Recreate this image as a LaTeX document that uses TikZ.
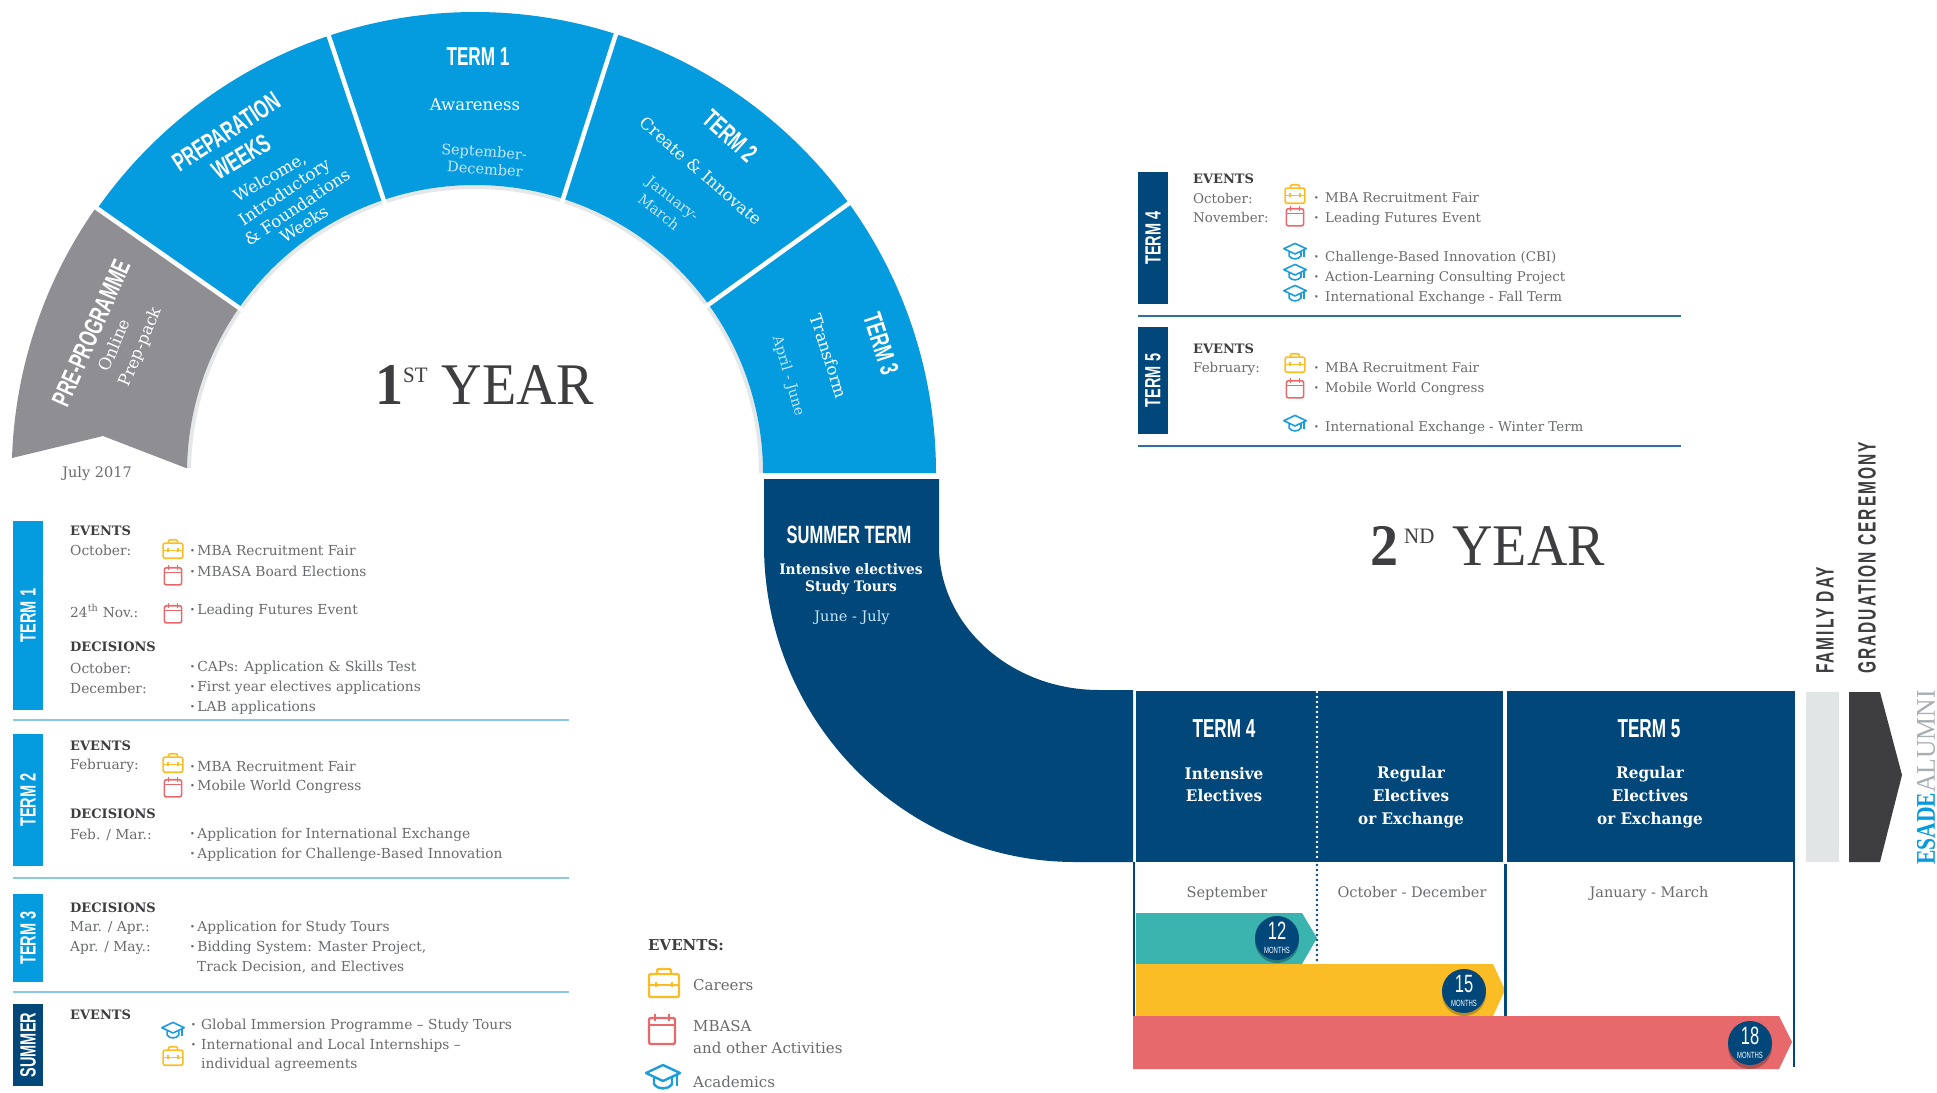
\documentclass[tikz,border=0pt]{standalone}
\usepackage{fontspec}
\setmainfont{DejaVu Serif}
\newfontfamily\termfont[FakeStretch=0.66]{Liberation Sans}
\newfontfamily\sidefont[FakeStretch=0.62,LetterSpace=8]{Liberation Sans}
\newfontfamily\yearfont[FakeStretch=0.95]{Liberation Serif}
\newfontfamily\esadefont[FakeStretch=0.8]{Liberation Serif}
\newfontfamily\panelfont[FakeStretch=0.95]{DejaVu Serif}
\newcommand{\fs}[1]{\fontsize{#1}{#1}\selectfont}
\newcommand{\dotitem}[1][7.2pt]{\makebox[#1][l]{\bfseries\textperiodcentered}}
\definecolor{navy}{HTML}{02477A}
\definecolor{termblue}{HTML}{059BDF}
\definecolor{archgray}{HTML}{8F8F93}
\definecolor{shadegray}{HTML}{E6E7E8}
\definecolor{bodygray}{HTML}{6A6B6E}
\definecolor{headgray}{HTML}{3E3D40}
\definecolor{paleblue}{HTML}{C4E6F8}
\definecolor{rulelight}{HTML}{8CC8E6}
\definecolor{ruledark}{HTML}{2F6FA5}
\definecolor{iconyellow}{HTML}{FBBD26}
\definecolor{iconred}{HTML}{E8696B}
\definecolor{iconblue}{HTML}{1B9CDD}
\definecolor{barteal}{HTML}{3BB3AF}
\definecolor{familygray}{HTML}{E1E5E5}
\definecolor{alumnigray}{HTML}{A9AEB3}
\tikzset{
  termhead/.style={font=\termfont\bfseries\fs{26},text=white,inner sep=0pt},
  archtext/.style={font=\fs{16.5},text=white,inner sep=0pt},
  archdate/.style={font=\fs{14.5},text=paleblue,inner sep=0pt},
  boxlabel/.style={font=\termfont\bfseries\fs{22},text=white,rotate=90,inner sep=0pt},
  listtext/.style={font=\fs{13.8},text=bodygray,anchor=west,inner sep=0pt},
  righttext/.style={font=\fs{13.4},text=bodygray,anchor=west,inner sep=0pt},
  listhead/.style={font=\bfseries\fs{13},text=headgray,anchor=west,inner sep=0pt},
  panelhead/.style={font=\panelfont\bfseries\fs{16},text=white,inner sep=0pt},
  paneldate/.style={font=\fs{14.5},text=bodygray,anchor=base,inner sep=0pt},
  bigyear/.style={font=\yearfont\fs{59},text=headgray,anchor=base west,inner sep=0pt},
  sidetext/.style={font=\sidefont\bfseries\fs{25},text=headgray,rotate=90,anchor=west,inner sep=0pt},
  monthdot/.style={circle,fill=navy,minimum size=44pt,inner sep=0pt,text=white,align=center},
  smallicon/.style={scale=0.66,yscale=-1,line width=1.6pt},
  bigicon/.style={yscale=-1,line width=2.4pt},
  briefcase/.pic={
    \draw[iconyellow,rounded corners=2] (-15,-9) rectangle (15,14);
    \draw[iconyellow,rounded corners=2] (-7,-9) -- (-7,-14) -- (7,-14) -- (7,-9);
    \draw[iconyellow] (-15,2) -- (15,2) (-8,-1) -- (-8,4) (8,-1) -- (8,4);
  },
  calendar/.pic={
    \draw[iconred,rounded corners=2] (-13,-11) rectangle (13,15);
    \draw[iconred] (-13,-4) -- (13,-4) (-7,-15) -- (-7,-8) (7,-15) -- (7,-8);
  },
  gradcap/.pic={
    \draw[iconblue,line join=round] (-17,-5) -- (0,-13) -- (17,-5) -- (0,3) -- cycle;
    \draw[iconblue] (-9,0) -- (-9,6) .. controls (-5,12) and (5,12) .. (9,6) -- (9,0);
    \draw[iconblue] (14,-4) -- (14,8);
  }
}
\begin{document}
\begin{tikzpicture}[x=1pt,y=1pt,yscale=-1]
\path[use as bounding box,fill=white] (0,0) rectangle (1937,1092);

\begin{scope}[shift={(475,473)}]
\fill[shadegray] (181:288) arc[start angle=181,end angle=360,radius=288] -- (360:284) arc[start angle=360,end angle=181,radius=284] -- cycle;
\fill[archgray] (12,458) ++(-475,-473) arc[start angle=181.9,end angle=215,radius=461] -- (215:288) arc[start angle=215,end angle=181,radius=288] -- (-289,-5) -- (-372,-37) -- cycle;
\foreach \a/\b in {215/251.5,251.5/287.8,287.8/324.2,324.2/360}
{
\fill[termblue] (\a:461) arc[start angle=\a,end angle=\b,radius=461] -- (\b:288) arc[start angle=\b,end angle=\a,radius=288] -- cycle;
}
\foreach \a in {215,251.5,287.8,324.2}
{
\draw[white,line width=4.5pt] (\a:283) -- (\a:466);
}
\end{scope}

\fill[navy] (764,479) -- (939,479) -- (939,546) arc[start angle=180,end angle=90,x radius=160,y radius=144] -- (1133,690) -- (1133,862) -- (1075,862) arc[start angle=90,end angle=180,x radius=311,y radius=317] -- cycle;
\fill[navy] (1136,691) rectangle (1503,862);
\fill[navy] (1507,691) rectangle (1795,862);

% bars below the panels
\fill[barteal] (1136,913) -- (1302,913) -- (1317,938) -- (1302,964) -- (1136,964) -- cycle;
\fill[iconyellow] (1136,964) -- (1493,964) -- (1505,990) -- (1493,1016) -- (1136,1016) -- cycle;
\draw[navy,line width=2pt] (1134,862) -- (1134,1016);
\draw[navy,line width=3pt] (1505,864) -- (1505,1016);
\draw[navy,line width=2.5pt] (1794,862) -- (1794,1067);
\fill[iconred] (1133,1016) -- (1779,1016) -- (1792,1042) -- (1779,1069) -- (1133,1069) -- cycle;
\draw[white,line width=2.6pt,line cap=round,dash pattern=on 0pt off 5pt] (1317,692) -- (1317,861);
\draw[navy,line width=2.6pt,line cap=round,dash pattern=on 0pt off 5pt] (1317,865) -- (1317,960);

\foreach \x/\y/\col in {1277/939/barteal!70!black,1464/992/iconyellow!75!black,1750/1045/iconred!75!black}
{
\fill[\col] (\x,\y+2) circle (22);
}
\foreach \nm/\x/\y/\n in {mtwelve/1277/938/12,mfifteen/1464/991/15,meighteen/1750/1043/18}
{
\node[monthdot] (\nm) at (\x,\y) {\termfont\fs{25}\n\\[2pt]\termfont\fs{9}MONTHS};
}

\fill[familygray] (1806,692) rectangle (1839,862);
\fill[headgray] (1849,692) -- (1880,692) -- (1902,775) -- (1880,862) -- (1849,862) -- cycle;

\node[sidetext] (family) at (1825,674) {FAMILY DAY};
\node[sidetext] (graduation) at (1867,674) {GRADUATION CEREMONY};
\node[rotate=90,anchor=west,inner sep=0pt,text=alumnigray] (alumni) at (1926,865) {\textcolor{termblue}{\esadefont\bfseries\fs{27}ESADE}{\yearfont\fs{27}ALUMNI}};

% arch labels
\foreach \nm/\x/\y/\r/\txt in {headone/478/57/0/{TERM 1},headtwo/730/136/-42/{TERM 2},headthree/881/344/-72/{TERM 3},headprep/226/132/33/{PREPARATION},headweeks/241/157/31/{WEEKS},headpre/91/333/66/{PRE-PROGRAMME}}
{
\node[termhead,rotate=\r] (\nm) at (\x,\y) {\txt};
}
\foreach \nm/\x/\y/\r/\txt in {aware/475/105/0/{Awareness},create/701/171/-41/{Create \& Innovate},transf/829/356/-72/{Transform},welcome/270/178/30/{Welcome,},intro/285/193/34/{Introductory},found/297/207/34/{\& Foundations},weeks/304/224/33/{Weeks},online/114/345/67/{Online},preppack/141/347/67/{Prep-pack}}
{
\node[archtext,rotate=\r] (\nm) at (\x,\y) {\txt};
}
\foreach \nm/\x/\y/\r/\txt in {sept/484/153/-4/{September-},decem/485/169/-4/{December},janu/672/200/-38/{January-},marchd/659/212/-38/{March},aprj/788/376/-74/{April - June}}
{
\node[archdate,rotate=\r] (\nm) at (\x,\y) {\txt};
}
\node[font=\fs{14.5},text=bodygray,inner sep=0pt] (july) at (97,474) {July 2017};

\node[bigyear] (yearone) at (375,404) {{\bfseries 1}\raisebox{22pt}{\fs{22}ST}\hspace{14pt}YEAR};
\node[bigyear] (yeartwo) at (1370,565) {{\bfseries 2}\hspace{6pt}\raisebox{22pt}{\fs{22}ND}\hspace{18pt}YEAR};

% summer and second year panels
\node[termhead,font=\termfont\bfseries\fs{25}] (summer) at (849,535) {SUMMER TERM};
\node[panelhead,font=\panelfont\bfseries\fs{14.5}] (inten) at (851,569) {Intensive electives};
\node[panelhead,font=\panelfont\bfseries\fs{14.5}] (study) at (851,588) {Study Tours};
\node[archdate] (junej) at (852,618) {June - July};
\node[termhead] (termfour) at (1224,729) {TERM 4};
\node[termhead] (termfive) at (1649,729) {TERM 5};
\foreach \nm/\x/\y/\txt in {pa/1224/774/{Intensive},pb/1224/796/{Electives},pc/1411/774/{Regular},pd/1411/796/{Electives},pe/1411/820/{or Exchange},pf/1650/774/{Regular},pg/1650/796/{Electives},ph/1650/820/{or Exchange}}
{
\node[panelhead] (\nm) at (\x,\y) {\txt};
}
\foreach \nm/\x/\txt in {da/1227/{September},db/1412/{October - December},dc/1649/{January - March}}
{
\node[paneldate] (\nm) at (\x,897) {\txt};
}

% left lists
\foreach \nm/\y/\h/\col/\txt in {boxa/521/189/termblue/{TERM 1},boxb/734/132/termblue/{TERM 2},boxc/894/88/termblue/{TERM 3},boxd/1004/82/navy/{SUMMER}}
{
\fill[\col] (13,\y) rectangle (43,\y+\h);
\node[boxlabel] (\nm) at (28,\y+\h*0.5) {\txt};
}
\foreach \y in {720,878,992}
{
\draw[rulelight,line width=1.5pt] (13,\y) -- (569,\y);
}
\foreach \nm/\y/\txt in {ha/531/EVENTS,hb/647/DECISIONS,hc/746/EVENTS,hd/814/DECISIONS,he/908/DECISIONS,hf/1015/EVENTS}
{
\node[listhead] (\nm) at (70,\y) {\txt};
}
\foreach \nm/\y/\txt in {la/550/{October:},lb/611/{24\textsuperscript{th} Nov.:},lc/668/{October:},ld/688/{December:},le/766/{February:},lf/835/{Feb. / Mar.:},lg/928/{Mar. / Apr.:},lh/948/{Apr. / May.:}}
{
\node[listtext] (\nm) at (70,\y) {\txt};
}
\foreach \nm/\y/\txt in {ia/551/{MBA Recruitment Fair},ib/571/{MBASA Board Elections},ic/611/{Leading Futures Event},id/668/{CAPs: Application \& Skills Test},ie/688/{First year electives applications},if/708/{LAB applications},ig/767/{MBA Recruitment Fair},ih/787/{Mobile World Congress},ii/835/{Application for International Exchange},ij/855/{Application for Challenge-Based Innovation},ik/928/{Application for Study Tours},il/948/{Bidding System: Master Project,}}
{
\node[listtext] (\nm) at (190,\y) {\dotitem\txt};
}
\node[listtext] (im) at (197,967) {Track Decision, and Electives};
\node[listtext] (in) at (191,1026) {\dotitem[10pt]Global Immersion Programme – Study Tours};
\node[listtext] (io) at (191,1046) {\dotitem[10pt]International and Local Internships –};
\node[listtext] (ip) at (201,1065) {individual agreements};

% right lists
\foreach \nm/\y/\h/\txt in {boxe/172/132/{TERM 4},boxf/327/107/{TERM 5}}
{
\fill[navy] (1138,\y) rectangle (1168,\y+\h);
\node[boxlabel] (\nm) at (1153,\y+\h*0.5) {\txt};
}
\foreach \y in {316,446}
{
\draw[ruledark,line width=1.3pt] (1138,\y) -- (1681,\y);
}
\node[listhead] (rha) at (1193,179) {EVENTS};
\node[listhead] (rhb) at (1193,349) {EVENTS};
\foreach \nm/\y/\txt in {rla/199/{October:},rlb/218/{November:},rlc/369/{February:}}
{
\node[righttext] (\nm) at (1193,\y) {\txt};
}
\foreach \nm/\y/\txt in {ra/198/{MBA Recruitment Fair},rb/219/{Leading Futures Event},rc/258/{Challenge-Based Innovation (CBI)},rd/278/{Action-Learning Consulting Project},re/298/{International Exchange - Fall Term},rf/368/{MBA Recruitment Fair},rg/389/{Mobile World Congress},rh/428/{International Exchange - Winter Term}}
{
\node[righttext] (\nm) at (1314,\y) {\dotitem[11pt]\txt};
}

% icons
\foreach \x/\y in {173/549,173/763,173/1056,1295/194,1295/363}
{
\pic[smallicon] at (\x,\y) {briefcase};
}
\foreach \x/\y in {173/575,173/613,173/787,1295/216,1295/388}
{
\pic[smallicon] at (\x,\y) {calendar};
}
\foreach \x/\y in {173/1031,1295/252,1295/273,1295/294,1295/424}
{
\pic[smallicon] at (\x,\y) {gradcap};
}

% legend
\node[listhead,font=\bfseries\fs{15}] (legend) at (648,945) {EVENTS:};
\pic[bigicon] at (664,983) {briefcase};
\pic[bigicon] at (662,1029) {calendar};
\pic[bigicon] at (663,1078) {gradcap};
\foreach \nm/\y/\txt in {lega/985/{Careers},legb/1026/{MBASA},legc/1048/{and other Activities},legd/1082/{Academics}}
{
\node[listtext,font=\fs{15}] (\nm) at (693,\y) {\txt};
}
\end{tikzpicture}
\end{document}
